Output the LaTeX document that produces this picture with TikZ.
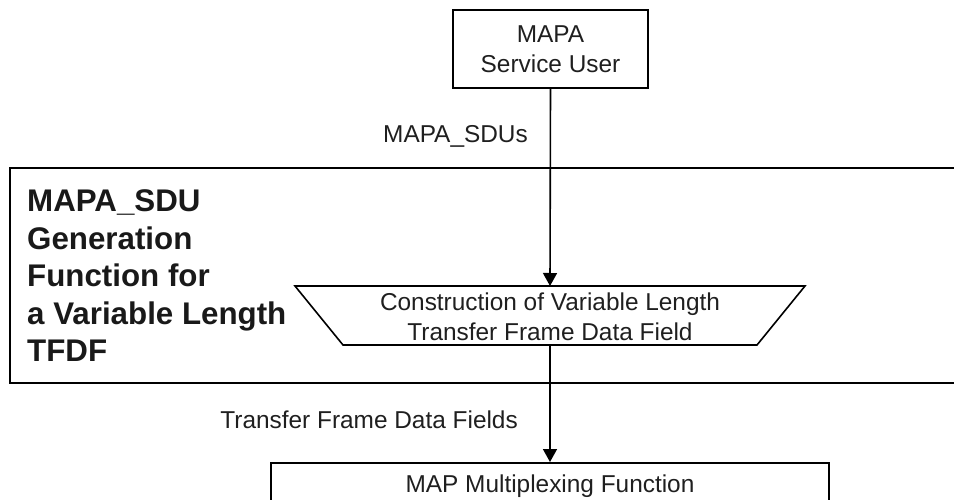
\documentclass[tikz,border=0pt]{standalone}
\usepackage{fontspec}
\setmainfont{Liberation Sans}
\usetikzlibrary{arrows.meta}
\begin{document}
\begin{tikzpicture}[x=1pt,y=-1pt,
  box/.style={draw, line width=1.6pt, inner sep=0pt},
  reg/.style={font=\fontsize{24.4}{29.5}\selectfont, text=black!88},
  flow/.style={line width=1.6pt, -{Triangle[length=13pt,width=14pt]}},
  edge/.style={line width=1.6pt}]
\useasboundingbox (0,0) rectangle (954,500);
\clip (0,0) rectangle (954,500);
% service user
\node[box, reg, align=center, minimum width=195, minimum height=78] (su) at (550.5,49) {MAPA\\Service User};
% generation function region
\draw[edge] (960,168) -| (10,383) -- (960,383);
\node[anchor=north west, inner sep=0pt, align=left, text=black!90,
      font=\fontsize{31.3}{37.5}\selectfont\bfseries] (gen) at (27,189.6)
  {MAPA\_SDU\\Generation\\Function for\\a Variable Length\\TFDF};
% trapezoid
\coordinate (ttop) at (550,286);
\coordinate (tbot) at (550,345);
\draw[edge, line join=miter] (295,286) -- (805,286) -- (757,345) -- (343,345) -- cycle;
\node[reg, align=center, inner sep=0pt, font=\fontsize{24.4}{30}\selectfont] (cons) at (550,316.3)
  {Construction of Variable Length\\Transfer Frame Data Field};
% mux box
\node[box, reg, anchor=north, minimum width=558, text height=30, text depth=46] (mux) at (550,462)
  {MAP Multiplexing Function};
% connectors
\draw[flow] (su.south) -- (ttop);
\draw[flow] (tbot) -- (mux.north);
% labels
\node[reg, anchor=base east, inner sep=0pt] (l1) at (528,143) {MAPA\_SDUs};
\node[reg, anchor=base east, inner sep=0pt] (l2) at (518,428) {Transfer Frame Data Fields};
\end{tikzpicture}
\end{document}
